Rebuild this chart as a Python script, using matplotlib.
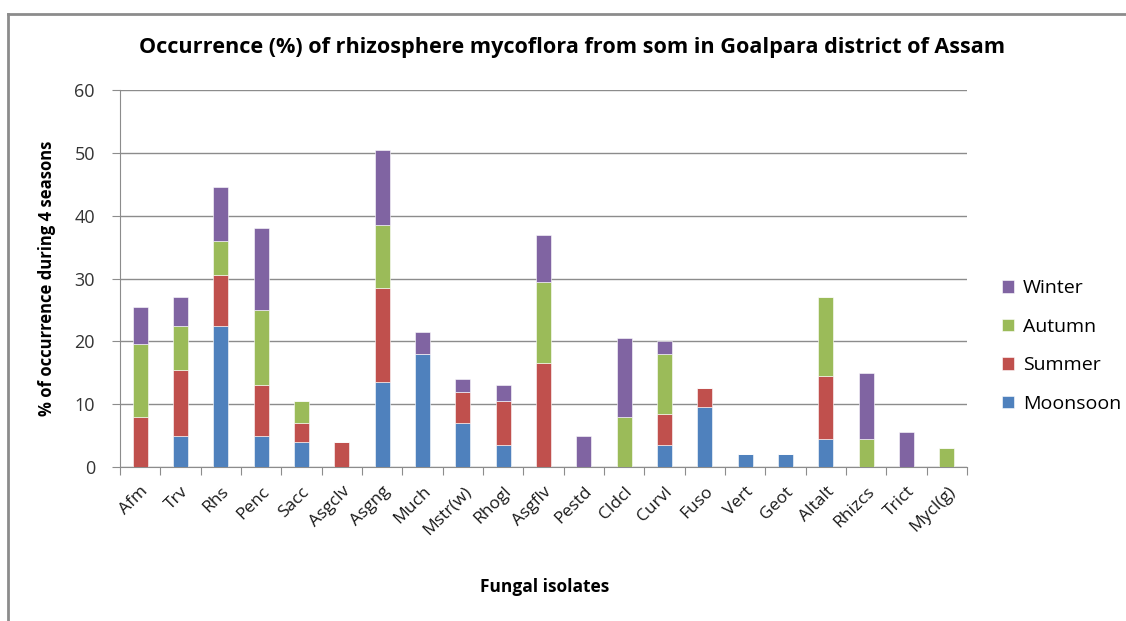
import matplotlib
matplotlib.use("Agg")
import matplotlib.pyplot as plt
from matplotlib.lines import Line2D
import numpy as np

categories = ["Afm", "Trv", "Rhs", "Penc", "Sacc", "Asgclv", "Asgng", "Much", "Mstr(w)",
              "Rhogl", "Asgflv", "Pestd", "Cldcl", "Curvl", "Fuso", "Vert", "Geot",
              "Altalt", "Rhizcs", "Trict", "Mycl(g)"]
moonsoon = [0, 5, 22.5, 5, 4, 0, 13.5, 18, 7, 3.5, 0, 0, 0, 3.5, 9.5, 2, 2, 4.5, 0, 0, 0]
summer   = [8, 10.5, 8, 8, 3, 4, 15, 0, 5, 7, 16.5, 0, 0, 5, 3, 0, 0, 10, 0, 0, 0]
autumn   = [11.5, 7, 5.5, 12, 3.5, 0, 10, 0, 0, 0, 13, 0, 8, 9.5, 0, 0, 0, 12.5, 4.5, 0, 3]
winter   = [6, 4.5, 8.5, 13, 0, 0, 12, 3.5, 2, 2.5, 7.5, 5, 12.5, 2, 0, 0, 0, 0, 10.5, 5.5, 0]
yticks = [0, 10, 20, 30, 40, 50, 60]

series = [("Moonsoon", moonsoon, "#4F81BD"), ("Summer", summer, "#C0504D"),
          ("Autumn", autumn, "#9BBB59"), ("Winter", winter, "#8064A2")]

plt.rcParams['font.family'] = ['Open Sans', 'DejaVu Sans']
fig = plt.figure(figsize=(11.26, 6.21), dpi=100)
ax = fig.add_axes([120/1126, 1-467/621, (967-120)/1126, (467-90)/621])

x = np.arange(len(categories))
bottom = np.zeros(len(categories))
handles = []
for name, vals, col in series:
    v = np.array(vals, dtype=float)
    b = ax.bar(x, v, width=0.38, bottom=bottom, color=col, edgecolor='white',
               linewidth=0.4, label=name, zorder=3)
    handles.append(b)
    bottom += v

ax.set_xlim(-0.5, len(categories) - 0.5)
ax.set_ylim(0, 60)
ax.set_yticks(yticks)
ax.yaxis.grid(True, color='#8c8c8c', linewidth=1.0, zorder=0)
ax.set_axisbelow(True)
for s in ['top', 'right']:
    ax.spines[s].set_visible(False)
ax.spines['left'].set_color('#8c8c8c')
ax.spines['bottom'].set_color('#8c8c8c')
ax.set_xticks(np.arange(len(categories) + 1) - 0.5, minor=False)
ax.set_xticklabels([])
ax.set_xticks(x, minor=True)
ax.set_xticklabels(categories, minor=True, rotation=45, ha='right', va='top',
                   rotation_mode='anchor', fontsize=12.5, color='#1a1a1a')
ax.tick_params(axis='x', which='major', length=6, color='#8c8c8c', direction='out')
ax.tick_params(axis='x', which='minor', length=0, pad=12)
ax.tick_params(axis='y', length=6, color='#8c8c8c', labelsize=13, labelcolor='#333333', pad=12)

ax.set_ylabel("% of occurrence during 4 seasons", fontsize=12, fontweight='bold')
ax.yaxis.set_label_coords(-64/847, 0.5)
fig.text(545/1126, 1-587/621, "Fungal isolates", fontsize=12.5, fontweight='bold',
         ha='center', va='center')
fig.text(572/1126, 1-47/621,
         "Occurrence (%) of rhizosphere mycoflora from som in Goalpara district of Assam",
         fontsize=15.6, fontweight='bold', ha='center', va='center')

leg = fig.legend(handles[::-1], [s[0] for s in series][::-1], loc='center left',
                 bbox_to_anchor=(985/1126, 1-346/621), frameon=False, fontsize=14,
                 handlelength=0.6, handleheight=0.6, labelspacing=1.05, handletextpad=0.45)

fig.add_artist(Line2D([8/1126, 8/1126], [0, 1-14/621], color='#8c8c8c', linewidth=2,
                      transform=fig.transFigure))
fig.add_artist(Line2D([8/1126, 1], [1-14/621, 1-14/621], color='#8c8c8c', linewidth=2,
                      transform=fig.transFigure))

fig.savefig("out.png", dpi=100)
